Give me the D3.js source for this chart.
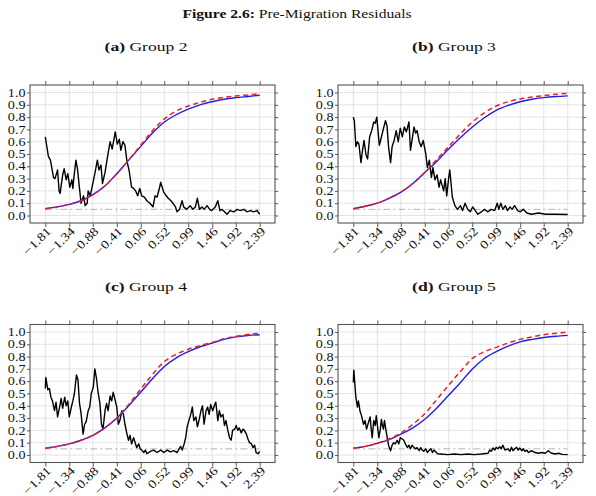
<!DOCTYPE html>
<html>
<head>
<meta charset="utf-8">
<title>Pre-Migration Residuals</title>
<script src="https://cdn.jsdelivr.net/npm/d3@7/dist/d3.min.js"></script>
<style>
  body { margin: 0; background: #fff; }
  text { font-family: "Liberation Serif", "DejaVu Serif", serif; fill: #111; }
</style>
</head>
<body>
<div id="chart"></div>
<script>
// axis ticks
const xTicks = [-1.81, -1.34, -0.88, -0.41, 0.06, 0.52, 0.99, 1.46, 1.92, 2.39];
const xTickLabels = ['\u22121.81', '\u22121.34', '\u22120.88', '\u22120.41', '0.06', '0.52', '0.99', '1.46', '1.92', '2.39'];
const yTicks = [0, 0.1, 0.2, 0.3, 0.4, 0.5, 0.6, 0.7, 0.8, 0.9, 1.0];
const refLevel = 0.05;

// x positions of the two smooth curves
const curveX = [-1.81, -1.577, -1.343, -1.11, -0.877, -0.643, -0.41, -0.177, 0.057, 0.29,
                0.523, 0.757, 0.99, 1.223, 1.457, 1.69, 1.923, 2.157, 2.39];

// Group 2
const g2Blue = [0.055, 0.07, 0.09, 0.12, 0.17, 0.24, 0.34, 0.45, 0.56, 0.67, 0.76, 0.82, 0.865, 0.90, 0.925, 0.945, 0.958, 0.968, 0.978];
const g2Red  = [0.055, 0.07, 0.09, 0.12, 0.17, 0.24, 0.34, 0.45, 0.57, 0.69, 0.785, 0.85, 0.89, 0.92, 0.945, 0.96, 0.972, 0.98, 0.99];
const g2Black = [[-1.81,0.64],[-1.75,0.48],[-1.71,0.45],[-1.65,0.31],[-1.62,0.30],[-1.57,0.37],[-1.54,0.20],[-1.52,0.18],
  [-1.47,0.33],[-1.44,0.38],[-1.40,0.29],[-1.37,0.34],[-1.33,0.23],[-1.29,0.29],[-1.27,0.22],[-1.25,0.31],[-1.21,0.45],
  [-1.18,0.38],[-1.14,0.22],[-1.11,0.10],[-1.06,0.16],[-1.03,0.08],[-0.99,0.10],[-0.97,0.20],[-0.93,0.16],[-0.88,0.26],
  [-0.84,0.34],[-0.79,0.45],[-0.76,0.37],[-0.72,0.41],[-0.69,0.26],[-0.64,0.35],[-0.59,0.48],[-0.54,0.60],[-0.50,0.54],
  [-0.44,0.68],[-0.40,0.58],[-0.36,0.62],[-0.33,0.53],[-0.29,0.60],[-0.25,0.57],[-0.21,0.44],[-0.17,0.37],[-0.12,0.23],
  [-0.08,0.22],[-0.04,0.20],[0.00,0.16],[0.04,0.22],[0.08,0.16],[0.13,0.15],[0.18,0.12],[0.24,0.10],[0.30,0.07],
  [0.34,0.16],[0.38,0.15],[0.43,0.23],[0.45,0.27],[0.51,0.19],[0.56,0.16],[0.60,0.14],[0.65,0.12],[0.69,0.10],
  [0.74,0.07],[0.77,0.03],[0.82,0.05],[0.87,0.12],[0.90,0.07],[0.96,0.05],[1.03,0.08],[1.08,0.05],[1.13,0.07],
  [1.17,0.14],[1.21,0.05],[1.26,0.07],[1.30,0.05],[1.36,0.08],[1.41,0.05],[1.45,0.04],[1.52,0.07],[1.57,0.12],
  [1.61,0.04],[1.65,0.05],[1.70,0.03],[1.75,0.01],[1.81,0.04],[1.88,0.03],[1.95,0.05],[2.01,0.04],[2.08,0.05],
  [2.14,0.03],[2.21,0.04],[2.27,0.03],[2.34,0.04],[2.39,0.01]];

// Group 3
const g3Blue = [0.055, 0.075, 0.10, 0.14, 0.19, 0.26, 0.35, 0.44, 0.54, 0.635, 0.72, 0.795, 0.855, 0.895, 0.925, 0.945, 0.958, 0.967, 0.973];
const g3Red  = [0.055, 0.075, 0.10, 0.14, 0.19, 0.26, 0.35, 0.455, 0.56, 0.665, 0.76, 0.835, 0.89, 0.925, 0.948, 0.963, 0.975, 0.985, 0.993];
const g3Black = [[-1.81,0.80],[-1.79,0.77],[-1.76,0.56],[-1.73,0.60],[-1.70,0.58],[-1.66,0.43],[-1.63,0.53],[-1.60,0.61],
  [-1.56,0.49],[-1.53,0.46],[-1.49,0.64],[-1.45,0.69],[-1.41,0.76],[-1.38,0.75],[-1.35,0.80],[-1.30,0.57],[-1.27,0.62],
  [-1.23,0.69],[-1.18,0.77],[-1.15,0.73],[-1.12,0.56],[-1.08,0.43],[-1.05,0.56],[-1.01,0.61],[-0.97,0.69],[-0.93,0.60],
  [-0.89,0.71],[-0.85,0.64],[-0.81,0.72],[-0.77,0.68],[-0.72,0.76],[-0.69,0.53],[-0.66,0.61],[-0.62,0.72],[-0.59,0.67],
  [-0.56,0.69],[-0.52,0.60],[-0.48,0.56],[-0.44,0.61],[-0.39,0.50],[-0.36,0.39],[-0.32,0.45],[-0.28,0.31],[-0.25,0.39],
  [-0.21,0.29],[-0.17,0.33],[-0.13,0.23],[-0.10,0.29],[-0.04,0.20],[-0.01,0.30],[0.02,0.16],[0.06,0.31],[0.08,0.37],
  [0.13,0.15],[0.18,0.08],[0.23,0.05],[0.29,0.08],[0.33,0.04],[0.38,0.10],[0.43,0.05],[0.48,0.03],[0.53,0.07],
  [0.58,0.04],[0.63,0.01],[0.70,0.03],[0.76,0.05],[0.83,0.03],[0.89,0.05],[0.96,0.04],[1.01,0.10],[1.04,0.05],
  [1.08,0.10],[1.12,0.05],[1.17,0.08],[1.21,0.04],[1.26,0.07],[1.30,0.05],[1.35,0.08],[1.41,0.04],[1.46,0.03],
  [1.52,0.05],[1.59,0.02],[1.68,0.01],[1.82,0.02],[1.95,0.01],[2.15,0.01],[2.39,0.008]];

// Group 4
const g4Blue = [0.055, 0.07, 0.09, 0.12, 0.16, 0.22, 0.30, 0.40, 0.51, 0.62, 0.72, 0.79, 0.84, 0.88, 0.91, 0.94, 0.96, 0.972, 0.978];
const g4Red  = [0.055, 0.07, 0.09, 0.12, 0.16, 0.22, 0.30, 0.41, 0.535, 0.655, 0.76, 0.82, 0.86, 0.89, 0.915, 0.945, 0.965, 0.98, 0.99];
const g4Black = [[-1.81,0.54],[-1.80,0.63],[-1.76,0.53],[-1.73,0.54],[-1.70,0.47],[-1.67,0.44],[-1.63,0.36],[-1.60,0.43],
  [-1.57,0.31],[-1.53,0.39],[-1.50,0.46],[-1.47,0.38],[-1.43,0.47],[-1.40,0.40],[-1.37,0.44],[-1.34,0.31],[-1.30,0.39],
  [-1.27,0.44],[-1.24,0.50],[-1.20,0.65],[-1.17,0.61],[-1.14,0.42],[-1.11,0.34],[-1.07,0.17],[-1.04,0.25],[-1.01,0.27],
  [-0.97,0.36],[-0.94,0.39],[-0.91,0.50],[-0.87,0.55],[-0.84,0.70],[-0.81,0.63],[-0.78,0.52],[-0.74,0.42],[-0.71,0.25],
  [-0.68,0.21],[-0.64,0.36],[-0.61,0.42],[-0.58,0.36],[-0.54,0.48],[-0.51,0.44],[-0.48,0.51],[-0.45,0.46],[-0.41,0.39],
  [-0.38,0.25],[-0.35,0.28],[-0.31,0.36],[-0.28,0.33],[-0.25,0.25],[-0.21,0.17],[-0.18,0.12],[-0.15,0.16],[-0.12,0.09],
  [-0.08,0.14],[-0.05,0.10],[-0.02,0.06],[0.02,0.09],[0.05,0.05],[0.08,0.04],[0.12,0.02],[0.15,0.04],[0.18,0.01],
  [0.25,0.03],[0.31,0.04],[0.38,0.02],[0.45,0.04],[0.51,0.02],[0.58,0.04],[0.64,0.025],[0.71,0.035],[0.77,0.02],
  [0.84,0.07],[0.87,0.04],[0.91,0.09],[0.94,0.14],[0.97,0.23],[1.01,0.29],[1.04,0.33],[1.07,0.39],[1.10,0.28],
  [1.14,0.31],[1.17,0.23],[1.20,0.28],[1.24,0.36],[1.27,0.40],[1.30,0.25],[1.34,0.36],[1.37,0.39],[1.40,0.33],
  [1.43,0.41],[1.47,0.36],[1.50,0.40],[1.53,0.43],[1.57,0.28],[1.60,0.36],[1.63,0.31],[1.67,0.33],[1.70,0.24],
  [1.73,0.28],[1.76,0.21],[1.80,0.14],[1.83,0.12],[1.86,0.20],[1.90,0.21],[1.93,0.24],[1.96,0.20],[1.99,0.22],
  [2.03,0.18],[2.06,0.21],[2.09,0.20],[2.13,0.17],[2.16,0.13],[2.19,0.10],[2.23,0.09],[2.26,0.06],[2.29,0.08],
  [2.32,0.02],[2.36,0.01],[2.39,0.03]];

// Group 5
const g5Blue = [0.055, 0.07, 0.095, 0.125, 0.17, 0.22, 0.29, 0.38, 0.485, 0.59, 0.70, 0.785, 0.84, 0.885, 0.92, 0.94, 0.955, 0.966, 0.973];
const g5Red  = [0.055, 0.07, 0.095, 0.13, 0.18, 0.25, 0.335, 0.45, 0.567, 0.68, 0.785, 0.84, 0.875, 0.91, 0.94, 0.96, 0.978, 0.99, 0.997];
const g5Black = [[-1.81,0.59],[-1.80,0.69],[-1.78,0.58],[-1.76,0.47],[-1.73,0.39],[-1.71,0.44],[-1.68,0.36],[-1.65,0.32],
  [-1.61,0.25],[-1.58,0.28],[-1.55,0.21],[-1.51,0.27],[-1.48,0.31],[-1.46,0.21],[-1.44,0.14],[-1.41,0.28],[-1.38,0.24],
  [-1.36,0.32],[-1.34,0.25],[-1.31,0.14],[-1.28,0.21],[-1.26,0.29],[-1.24,0.24],[-1.22,0.21],[-1.20,0.28],[-1.17,0.20],
  [-1.14,0.13],[-1.12,0.08],[-1.08,0.035],[-1.05,0.08],[-1.02,0.10],[-0.99,0.09],[-0.95,0.12],[-0.92,0.09],[-0.89,0.14],
  [-0.85,0.13],[-0.82,0.12],[-0.79,0.09],[-0.75,0.06],[-0.72,0.08],[-0.69,0.05],[-0.66,0.08],[-0.62,0.06],[-0.59,0.05],
  [-0.56,0.06],[-0.52,0.035],[-0.49,0.06],[-0.46,0.04],[-0.43,0.03],[-0.39,0.05],[-0.36,0.02],[-0.33,0.035],[-0.29,0.05],
  [-0.26,0.02],[-0.23,0.04],[-0.16,0.01],[-0.10,0.008],[0.04,0.003],[0.17,0.008],[0.30,0.003],[0.43,0.008],[0.56,0.003],
  [0.70,0.008],[0.83,0.014],[0.86,0.04],[0.89,0.03],[0.93,0.057],[0.96,0.04],[0.99,0.063],[1.02,0.05],[1.06,0.068],
  [1.09,0.05],[1.12,0.08],[1.16,0.04],[1.22,0.05],[1.26,0.03],[1.29,0.063],[1.32,0.035],[1.35,0.05],[1.39,0.063],
  [1.42,0.04],[1.45,0.057],[1.49,0.035],[1.52,0.05],[1.55,0.03],[1.59,0.04],[1.62,0.02],[1.68,0.035],[1.75,0.02],
  [1.82,0.014],[1.88,0.02],[1.95,0.014],[2.01,0.035],[2.05,0.02],[2.08,0.014],[2.15,0.008],[2.21,0.014],[2.28,0.005],
  [2.39,0.003]];

const panels = [
  { tag: '(a)', name: 'Group 2', left: 30, top: 85, black: g2Black, blue: g2Blue, red: g2Red },
  { tag: '(b)', name: 'Group 3', left: 338, top: 85, black: g3Black, blue: g3Blue, red: g3Red },
  { tag: '(c)', name: 'Group 4', left: 30, top: 324.5, black: g4Black, blue: g4Blue, red: g4Red },
  { tag: '(d)', name: 'Group 5', left: 338, top: 324.5, black: g5Black, blue: g5Blue, red: g5Red }
];

const W = 596, H = 496;
const pw = 245, ph = 138;
const stretch = 1.3;

const svg = d3.select('#chart')
  .append('svg')
  .attr('width', W)
  .attr('height', H);

// figure title
const title = svg.append('text')
  .attr('transform', 'translate(297,18) scale(1.2,1)')
  .attr('text-anchor', 'middle')
  .attr('font-size', '13px');
title.append('tspan').attr('font-weight', 'bold').text('Figure 2.6:');
title.append('tspan').text(' Pre-Migration Residuals');

const xScale = d3.scaleLinear().domain([-2.11, 2.69]).range([0, pw]);
const yScale = d3.scaleLinear().domain([-0.061, 1.061]).range([ph, 0]);

panels.forEach(p => {
  // subtitle
  const sub = svg.append('text')
    .attr('transform', 'translate(' + (p.left + 116) + ',' + (p.top - 34) + ') scale(' + stretch + ',1)')
    .attr('text-anchor', 'middle')
    .attr('font-size', '13.5px');
  sub.append('tspan').attr('font-weight', 'bold').text(p.tag);
  sub.append('tspan').text(' ' + p.name);

  const g = svg.append('g')
    .attr('transform', 'translate(' + p.left + ',' + p.top + ')');

  // grid
  g.selectAll('.hgrid')
    .data(yTicks)
    .enter()
    .append('line')
    .attr('x1', 0).attr('x2', pw)
    .attr('y1', d => yScale(d)).attr('y2', d => yScale(d))
    .attr('stroke', '#dcdcdc').attr('stroke-width', 0.8);
  g.selectAll('.vgrid')
    .data(xTicks)
    .enter()
    .append('line')
    .attr('y1', 0).attr('y2', ph)
    .attr('x1', d => xScale(d)).attr('x2', d => xScale(d))
    .attr('stroke', '#dcdcdc').attr('stroke-width', 0.8);

  // axes: ticks outward on all four sides
  const axB = d3.axisBottom(xScale).tickValues(xTicks).tickSize(4).tickFormat('');
  const axT = d3.axisTop(xScale).tickValues(xTicks).tickSize(4).tickFormat('');
  const axL = d3.axisLeft(yScale).tickValues(yTicks).tickSize(3).tickFormat('');
  const axR = d3.axisRight(yScale).tickValues(yTicks).tickSize(3).tickFormat('');
  g.append('g').attr('transform', 'translate(0,' + ph + ')').call(axB);
  g.append('g').call(axT);
  g.append('g').call(axL);
  g.append('g').attr('transform', 'translate(' + pw + ',0)').call(axR);
  g.selectAll('.domain').remove();
  g.selectAll('.tick line').attr('stroke', '#444').attr('stroke-width', 0.9);

  g.append('rect')
    .attr('width', pw).attr('height', ph)
    .attr('fill', 'none')
    .attr('stroke', '#555').attr('stroke-width', 1.1);

  // y labels
  g.selectAll('.ylab')
    .data(yTicks)
    .enter()
    .append('text')
    .attr('transform', d => 'translate(-4.5,' + yScale(d) + ') scale(1.2,1)')
    .attr('dy', '0.35em')
    .attr('text-anchor', 'end')
    .attr('font-size', '11.8px')
    .text(d => d.toFixed(1));

  // x labels, rotated
  g.selectAll('.xlab')
    .data(xTicks)
    .enter()
    .append('text')
    .attr('transform', d => 'translate(' + (xScale(d) + 3.5) + ',' + (ph + 6) + ') rotate(-45) scale(1.22,1)')
    .attr('dy', '0.35em')
    .attr('text-anchor', 'end')
    .attr('font-size', '12px')
    .text((d, i) => xTickLabels[i]);

  // reference line at 0.05
  g.append('line')
    .attr('x1', xScale(xTicks[0])).attr('x2', xScale(xTicks[xTicks.length - 1]))
    .attr('y1', yScale(refLevel)).attr('y2', yScale(refLevel))
    .attr('stroke', '#b4b4b4').attr('stroke-width', 1)
    .attr('stroke-dasharray', '7,3,2,3');

  const trace = d3.line()
    .x(d => xScale(d[0]))
    .y(d => yScale(d[1]));

  g.append('path')
    .datum(p.black)
    .attr('d', trace)
    .attr('fill', 'none')
    .attr('stroke', '#000')
    .attr('stroke-width', 1.4)
    .attr('stroke-linejoin', 'round');

  const smooth = d3.line()
    .x((d, i) => xScale(curveX[i]))
    .y(d => yScale(d))
    .curve(d3.curveMonotoneX);

  g.append('path')
    .datum(p.blue)
    .attr('d', smooth)
    .attr('fill', 'none')
    .attr('stroke', '#1f1fe6')
    .attr('stroke-width', 1.4);

  g.append('path')
    .datum(p.red)
    .attr('d', smooth)
    .attr('fill', 'none')
    .attr('stroke', '#e8202a')
    .attr('stroke-width', 1.5)
    .attr('stroke-dasharray', '5,3.5');
});
</script>
</body>
</html>
